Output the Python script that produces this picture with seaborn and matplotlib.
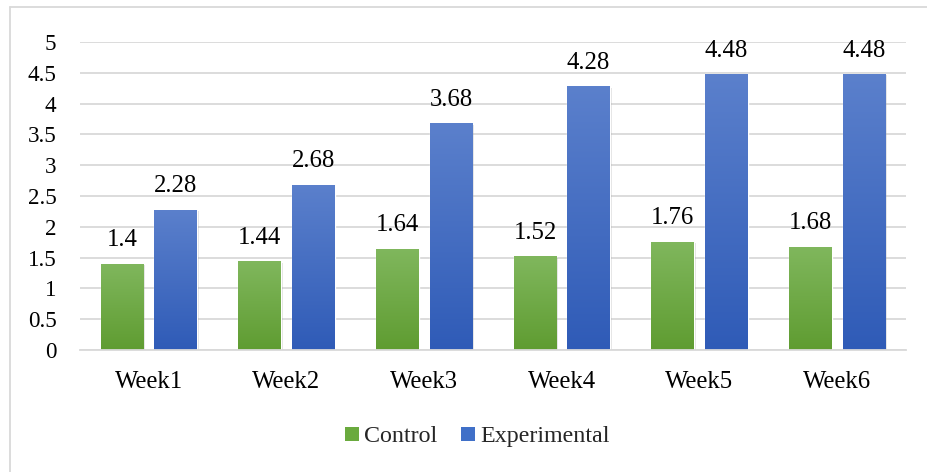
import numpy as np
import pandas as pd
import matplotlib.pyplot as plt
import seaborn as sns
from matplotlib.colors import LinearSegmentedColormap
from matplotlib.lines import Line2D

# Dane
weeks = ['Week1', 'Week2', 'Week3', 'Week4', 'Week5', 'Week6']
control = [1.4, 1.44, 1.64, 1.52, 1.76, 1.68]
experimental = [2.28, 2.68, 3.68, 4.28, 4.48, 4.48]
groups = ['Control', 'Experimental']
y_ticks = [0, 0.5, 1, 1.5, 2, 2.5, 3, 3.5, 4, 4.5, 5]
y_tick_labels = ['0', '0.5', '1', '1.5', '2', '2.5', '3', '3.5', '4', '4.5', '5']

df = pd.DataFrame({
    'Week': weeks * 2,
    'Score': control + experimental,
    'Group': [groups[0]] * len(weeks) + [groups[1]] * len(weeks),
})

# Ustawienia
sns.set_theme(style="white")
plt.rcParams['font.family'] = ['Liberation Serif', 'DejaVu Serif']

solid = {'Control': '#6aaa3e', 'Experimental': '#4070c8'}
grads = {
    'Control': LinearSegmentedColormap.from_list('g', ['#5f9c31', '#80b75d']),
    'Experimental': LinearSegmentedColormap.from_list('b', ['#2f5bb7', '#5b80cc']),
}

fig = plt.figure(figsize=(9.27, 4.72), dpi=100)
ax = fig.add_axes([80 / 927, 1 - 350 / 472, 826 / 927, 308 / 472])

sns.barplot(data=df, x='Week', y='Score', hue='Group', palette=solid,
            width=0.78, gap=0.2, ax=ax, legend=False, errorbar=None)

# gradient + lekki cień
grad = np.linspace(0, 1, 256).reshape(-1, 1)
for cont, g in zip(ax.containers, groups):
    for bar in cont:
        x0, w, h = bar.get_x(), bar.get_width(), bar.get_height()
        ax.bar(x0 + w / 2 + 0.012, h, width=w, bottom=-0.02, color='#000000',
               alpha=0.12, zorder=1.5, linewidth=0)
        bar.set_zorder(2)
        im = ax.imshow(grad, extent=[x0, x0 + w, 0, h], origin='lower',
                       aspect='auto', cmap=grads[g], zorder=2.5)
        im.set_clip_path(bar)
    ax.bar_label(cont, labels=[f'{v:g}' for v in cont.datavalues],
                 padding=9, fontsize=17.8, color='#000000')

ax.set_xlim(-0.5, 5.5)
ax.set_ylim(0, 5)
ax.set_yticks(y_ticks)
ax.set_yticklabels(y_tick_labels)
ax.set_xlabel('')
ax.set_ylabel('')
ax.yaxis.grid(True, color='#d9d9d9', linewidth=1.3)
ax.set_axisbelow(True)
for s in ['top', 'right', 'left']:
    ax.spines[s].set_visible(False)
ax.spines['bottom'].set_color('#d9d9d9')
ax.spines['bottom'].set_linewidth(1.3)
ax.tick_params(axis='y', length=0, pad=17, labelsize=16.6, labelcolor='#000000')
ax.tick_params(axis='x', length=0, pad=15, labelsize=17.8, labelcolor='#000000')

# ramka wykresu
fig.add_artist(Line2D([10 / 927, 10 / 927], [0, 1 - 7 / 472],
                      transform=fig.transFigure, color='#d9d9d9', lw=1.3))
fig.add_artist(Line2D([10 / 927, 1], [1 - 7 / 472, 1 - 7 / 472],
                      transform=fig.transFigure, color='#d9d9d9', lw=1.3))

# legenda
handles = [Line2D([], [], marker='s', linestyle='none', markersize=9.5,
                  markerfacecolor=solid[g], markeredgewidth=0) for g in groups]
fig.legend(handles, groups, loc='center', bbox_to_anchor=(476 / 927, 1 - 436 / 472),
           ncol=2, frameon=False, fontsize=17.3, handlelength=0.8,
           handletextpad=0.1, columnspacing=0.9)

fig.savefig('out.png', dpi=100)
